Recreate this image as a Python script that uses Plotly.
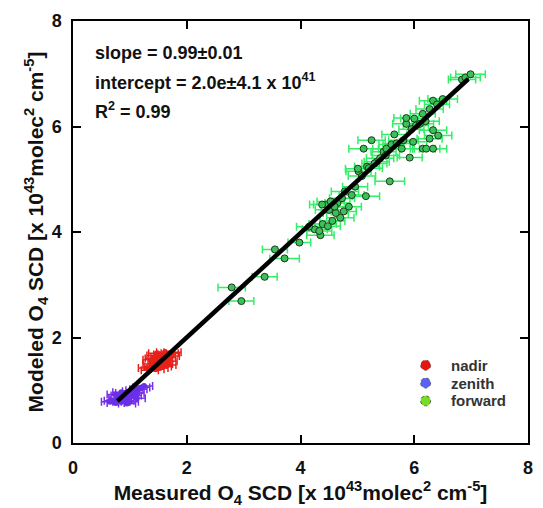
import plotly.graph_objects as go

# ---------------- data ----------------
forward_x = [2.79, 2.96, 3.37, 3.55, 3.72, 3.98, 4.35, 4.25, 4.33, 4.39, 4.48, 4.56, 4.70, 4.62,
             4.76, 4.50, 4.85, 4.45, 4.38, 4.53, 4.65, 4.73, 4.78, 4.90, 4.96, 5.15, 5.57, 5.02,
             5.08, 5.17, 5.20, 5.34, 5.40, 5.46, 5.01, 5.11, 5.25, 5.51, 5.60, 5.69, 5.78, 5.81,
             5.98, 5.92, 6.15, 6.21, 6.33, 6.27, 6.42, 6.33, 6.03, 5.86, 5.86, 6.00, 6.15, 6.27,
             6.33, 6.50, 6.40, 6.84, 6.90, 6.99, 5.65, 5.50, 5.30, 4.60, 4.15, 6.10, 5.95, 6.20]
forward_y = [2.95, 2.69, 3.15, 3.67, 3.50, 3.80, 3.94, 4.05, 4.02, 4.15, 4.11, 4.21, 4.27, 4.36,
             4.39, 4.42, 4.48, 4.52, 4.52, 4.58, 4.55, 4.64, 4.77, 4.70, 4.86, 4.68, 4.96, 5.15,
             5.06, 5.24, 5.21, 5.33, 5.40, 5.52, 5.20, 5.58, 5.74, 5.58, 5.66, 5.68, 5.58, 5.74,
             5.71, 5.41, 5.58, 5.58, 5.58, 5.77, 5.83, 5.93, 6.02, 6.05, 6.16, 6.15, 6.24, 6.33,
             6.49, 6.52, 6.42, 6.89, 6.93, 6.99, 5.85, 5.45, 5.30, 4.48, 4.10, 6.05, 5.95, 6.10]
forward_err = [0.24, 0.22, 0.22, 0.22, 0.26, 0.20, 0.24, 0.22, 0.22, 0.24, 0.22, 0.22, 0.24, 0.22,
               0.22, 0.24, 0.22, 0.22, 0.22, 0.24, 0.22, 0.22, 0.24, 0.22, 0.22, 0.24, 0.26, 0.22,
               0.24, 0.22, 0.24, 0.22, 0.24, 0.22, 0.22, 0.26, 0.24, 0.24, 0.22, 0.24, 0.22, 0.26,
               0.24, 0.22, 0.22, 0.24, 0.24, 0.22, 0.24, 0.24, 0.22, 0.24, 0.22, 0.24, 0.22, 0.24,
               0.24, 0.26, 0.22, 0.24, 0.26, 0.26, 0.22, 0.24, 0.22, 0.24, 0.22, 0.24, 0.22, 0.24]

nadir_x = [1.30, 1.35, 1.38, 1.40, 1.42, 1.45, 1.47, 1.48, 1.50, 1.52, 1.55, 1.57, 1.58,
           1.60, 1.62, 1.65, 1.68, 1.70, 1.72, 1.75, 1.45, 1.52, 1.60, 1.38, 1.66]
nadir_y = [1.42, 1.38, 1.50, 1.45, 1.60, 1.40, 1.55, 1.70, 1.48, 1.62, 1.52, 1.68, 1.45,
           1.58, 1.72, 1.62, 1.55, 1.70, 1.65, 1.72, 1.66, 1.42, 1.50, 1.58, 1.48]
nadir_err = [0.15] * len(nadir_x)

zenith_x = [0.65, 0.70, 0.75, 0.78, 0.80, 0.82, 0.85, 0.88, 0.90, 0.92, 0.95, 0.98, 1.00,
            1.02, 1.05, 1.08, 1.10, 1.15, 1.20, 1.25, 0.85, 0.95, 1.00, 1.12, 0.75]
zenith_y = [0.78, 0.80, 0.76, 0.85, 0.82, 0.90, 0.78, 0.88, 0.95, 0.80, 0.86, 0.92, 0.78,
            0.98, 0.90, 1.00, 0.95, 1.02, 1.05, 1.08, 0.96, 0.75, 0.88, 0.85, 0.92]
zenith_err = [0.15] * len(zenith_x)

fit_slope = 0.99
fit_intercept = 0.02   # 2.0e41 in units of 1e43
fit_x = [0.78, 6.95]
fit_y = [fit_slope * v + fit_intercept for v in fit_x]

tick_vals = [0, 2, 4, 6, 8]
tick_text = ["0", "2", "4", "6", "8"]

legend_labels = ["nadir", "zenith", "forward"]
legend_colors = ["#e8140f", "#5b62f0", "#77dd22"]

stats_lines = ["slope = 0.99±0.01",
               "intercept = 2.0e±4.1 x 10<sup>41</sup>",
               "R<sup>2</sup> = 0.99"]

FONT = "Liberation Sans, Arial, sans-serif"

fig = go.Figure()

fig.add_trace(go.Scatter(
    x=forward_x, y=forward_y, mode="markers", name="forward",
    error_x=dict(type="data", array=forward_err, color="#33ee66", thickness=1.5, width=4),
    marker=dict(color="#3cc05a", size=7, line=dict(color="#1a3a1a", width=1)),
    showlegend=False))
fig.add_trace(go.Scatter(
    x=nadir_x, y=nadir_y, mode="markers", name="nadir",
    error_x=dict(type="data", array=nadir_err, color="#e8201a", thickness=1.5, width=4),
    marker=dict(color="#e8201a", size=6),
    showlegend=False))
fig.add_trace(go.Scatter(
    x=zenith_x, y=zenith_y, mode="markers", name="zenith",
    error_x=dict(type="data", array=zenith_err, color="#7a30e8", thickness=1.5, width=4),
    marker=dict(color="#6a30e8", size=6),
    showlegend=False))
fig.add_trace(go.Scatter(
    x=fit_x, y=fit_y, mode="lines", line=dict(color="black", width=4.5),
    showlegend=False))

# statistics text
for i, t in enumerate(stats_lines):
    fig.add_annotation(xref="paper", yref="paper", x=0.043, y=0.925 - i * 0.068,
                       xanchor="left", yanchor="middle", showarrow=False, text=t,
                       font=dict(family=FONT, size=18, color="#111", weight="bold"))

# custom legend
for i, (lab, col) in enumerate(zip(legend_labels, legend_colors)):
    yy = 0.1843 - i * 0.0422
    fig.add_shape(type="circle", xref="paper", yref="paper", xsizemode="pixel", ysizemode="pixel",
                  xanchor=0.775, yanchor=yy, x0=-5, x1=5, y0=-5, y1=5,
                  fillcolor=col, line=dict(color="#555", width=1, dash="dot"))
    fig.add_annotation(xref="paper", yref="paper", x=0.826, y=yy, xanchor="left", yanchor="middle",
                       showarrow=False, text=lab,
                       font=dict(family=FONT, size=15, color="#333", weight="bold"))

axis_common = dict(range=[0, 8], tickvals=tick_vals, ticktext=tick_text,
                   showgrid=False, zeroline=False, showline=True, linecolor="black", linewidth=1.5,
                   mirror="ticks", ticks="inside", ticklen=8, tickwidth=1.5, tickcolor="black",
                   tickfont=dict(family=FONT, size=18, color="#111", weight="bold"))

fig.update_layout(
    width=543, height=508,
    margin=dict(l=73, r=10, t=21, b=61),
    paper_bgcolor="white", plot_bgcolor="white",
    xaxis=dict(**axis_common, ticklabelstandoff=8,
               title=dict(text="Measured O<sub>4</sub> SCD [x 10<sup>43</sup>molec<sup>2</sup> cm<sup>-5</sup>]",
                          font=dict(family=FONT, size=21, color="#111", weight="bold"), standoff=5)),
    yaxis=dict(**axis_common, ticklabelstandoff=6,
               title=dict(text="Modeled O<sub>4</sub> SCD [x 10<sup>43</sup>molec<sup>2</sup> cm<sup>-5</sup>]",
                          font=dict(family=FONT, size=21, color="#111", weight="bold"), standoff=2)),
)

fig.write_html("out.html", config={"displayModeBar": False},
               post_script="document.body.style.margin='0';")
